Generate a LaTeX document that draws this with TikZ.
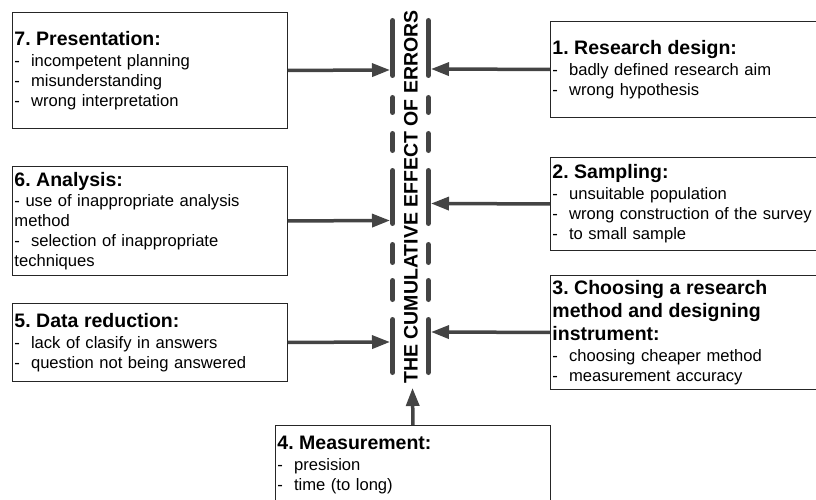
\documentclass[tikz,border=0pt]{standalone}
\usepackage{fontspec}
\setmainfont{Liberation Sans}
\usetikzlibrary{arrows.meta}
\definecolor{ink}{HTML}{444444}
\frenchspacing
\newcommand\boxhead[1]{{\fontsize{19.5}{23}\selectfont\bfseries #1}}
\begin{document}
\begin{tikzpicture}[x=1pt,y=-1pt,
  box/.style={draw=black!85, line width=0.9pt, anchor=north west,
    inner xsep=2pt, inner ysep=0pt, minimum width=275pt, text width=271pt,
    align=left, font=\fontsize{16.6}{20}\selectfont},
  feed/.style={draw=ink, line width=3.5pt, -{Triangle[length=18pt,width=13pt]}},
  bar/.style={draw=ink, line width=5.5pt, line cap=round}]
\clip (0,0) rectangle (816,500);

% left column
\node[box, minimum height=116pt] (b7) at (12,12)
  {\boxhead{7. Presentation:}\\[1pt]-\ \ incompetent planning\\-\ \ misunderstanding\\-\ \ wrong interpretation};
\node[box, minimum height=109pt] (b6) at (12,166)
  {\boxhead{6. Analysis:}\\[0pt]- use of inappropriate analysis\\method\\-\ \ selection of inappropriate\\techniques};
\node[box, minimum height=78pt] (b5) at (12,303)
  {\boxhead{5. Data reduction:}\\[1pt]-\ \ lack of clasify in answers\\-\ \ question not being answered};

% right column
\node[box, minimum height=96pt] (b1) at (550,21)
  {\boxhead{1. Research design:}\\[1pt]-\ \ badly defined research aim\\-\ \ wrong hypothesis};
\node[box, minimum height=93pt] (b2) at (550,157)
  {\boxhead{2. Sampling:}\\[1pt]-\ \ unsuitable population\\-\ \ wrong construction of the survey\\-\ \ to small sample};
\node[box, minimum height=114pt] (b3) at (550,275)
  {\boxhead{3. Choosing a research}\\[3.5pt]\boxhead{method and designing}\\[3pt]\boxhead{instrument:}\\[1pt]-\ \ choosing cheaper method\\-\ \ measurement accuracy};

% bottom
\node[box, minimum height=80pt] (b4) at (275,425)
  {\boxhead{4. Measurement:}\\[1pt]-\ \ presision\\-\ \ time (to long)};

% the broken double bar with its vertical title
\foreach \ya/\yb in {18/78, 95/115, 131/153, 168/226, 242/265, 278/302, 317/375} {
  \draw[bar] (392.7,\ya+2.75) -- (392.7,\yb-2.75);
  \draw[bar] (428.3,\ya+2.75) -- (428.3,\yb-2.75);
}
\node[rotate=90, inner sep=0pt, font=\fontsize{19.5}{23}\selectfont\bfseries] (title) at (411,197)
  {THE CUMULATIVE EFFECT OF ERRORS};

% arrow tips on the bars
\coordinate (t7) at (390,70);
\coordinate (t6) at (390,220.5);
\coordinate (t5) at (390,342);
\coordinate (t1) at (431,69);
\coordinate (t2) at (431,203.5);
\coordinate (t3) at (431,332);
\coordinate (t4) at (412.5,388);

\draw[feed] (b7.east) -- (t7);
\draw[feed] (b6.east) -- (t6);
\draw[feed] (b5.east) -- (t5);
\draw[feed] (b1.west) -- (t1);
\draw[feed] (b2.west) -- (t2);
\draw[feed] (b3.west) -- (t3);
\draw[feed] (b4.north) -- (t4);
\end{tikzpicture}
\end{document}
